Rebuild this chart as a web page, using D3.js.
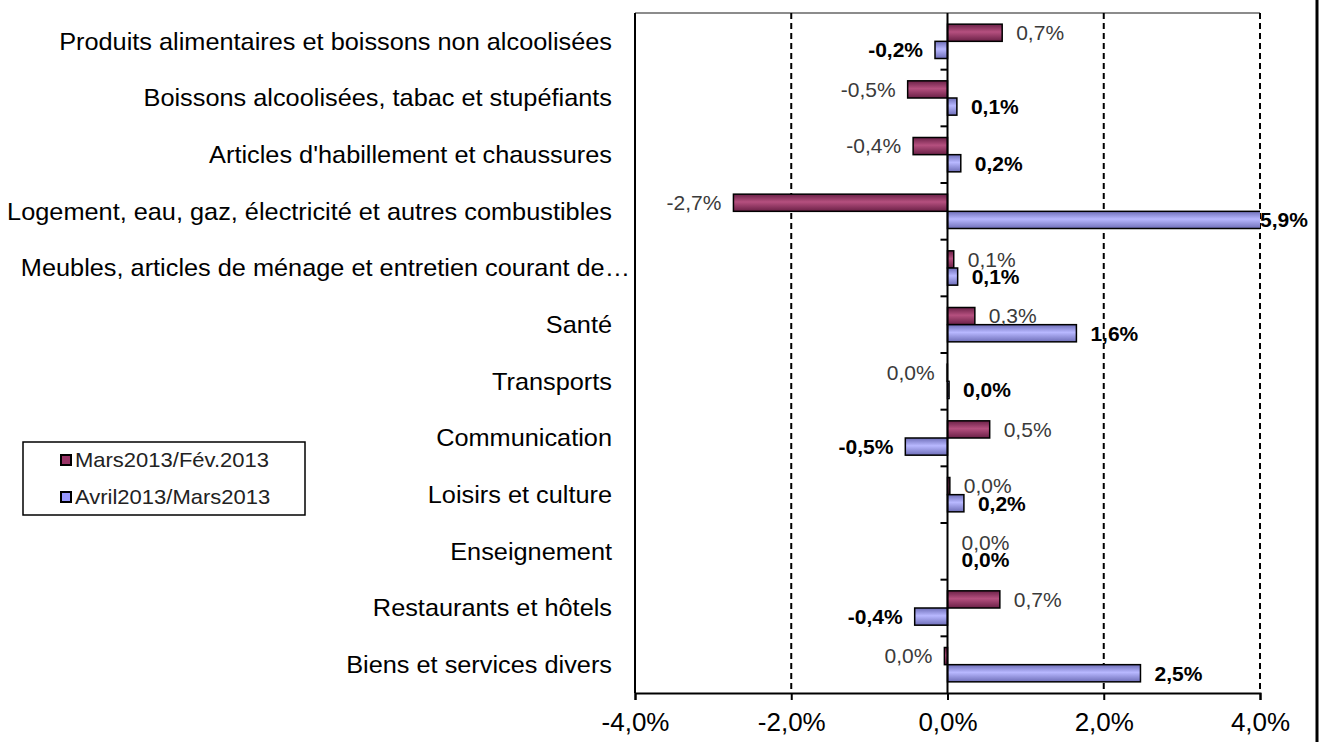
<!DOCTYPE html>
<html>
<head>
<meta charset="utf-8">
<script src="https://cdn.jsdelivr.net/npm/d3@7"></script>
<style>
  body { margin: 0; background: #fff; }
  text { font-family: "Liberation Sans", Arial, sans-serif; }
</style>
</head>
<body>
<script>
var width = 1320;
var height = 742;

// data
var categories = [
    "Produits alimentaires et boissons non alcoolisées",
    "Boissons alcoolisées, tabac et stupéfiants",
    "Articles d'habillement et chaussures",
    "Logement, eau, gaz, électricité et autres combustibles",
    "Meubles, articles de ménage et entretien courant de…",
    "Santé",
    "Transports",
    "Communication",
    "Loisirs et culture",
    "Enseignement",
    "Restaurants et hôtels",
    "Biens et services divers"
];
var seriesNames = ["Mars2013/Fév.2013", "Avril2013/Mars2013"];
var marsFev = [0.7, -0.51, -0.44, -2.74, 0.08, 0.35, -0.01, 0.54, 0.03, 0.0, 0.67, -0.04];
var avrilMars = [-0.16, 0.12, 0.17, 5.9, 0.13, 1.65, 0.02, -0.54, 0.21, 0.0, -0.42, 2.47];
var tickValues = [-4, -2, 0, 2, 4];

var plot = {left: 635, right: 1260, top: 13, bottom: 693};

var svg = d3.select("body").append("svg")
    .attr("width", width)
    .attr("height", height);

// gradients for the bars (dark edges, light middle)
var defs = svg.append("defs");
function gradient(id, dark, light){
    var g = defs.append("linearGradient").attr("id", id)
        .attr("x1", 0).attr("y1", 0).attr("x2", 0).attr("y2", 1);
    g.append("stop").attr("offset", "0%").attr("stop-color", dark);
    g.append("stop").attr("offset", "45%").attr("stop-color", light);
    g.append("stop").attr("offset", "100%").attr("stop-color", dark);
}
gradient("gMaroon", "#6a2046", "#b5507f");
gradient("gBlue", "#6e6eb8", "#b8b8ff");
var fills = ["url(#gMaroon)", "url(#gBlue)"];
var legendFills = ["#993366", "#9999ff"];

defs.append("clipPath").attr("id", "plotClip")
    .append("rect")
    .attr("x", plot.left).attr("y", plot.top - 2)
    .attr("width", plot.right - plot.left)
    .attr("height", plot.bottom - plot.top + 4);

// scales
var x = d3.scaleLinear().domain([-4, 4]).range([plot.left, plot.right]);
var y0 = d3.scaleBand().domain(categories).range([plot.top, plot.bottom]).padding(0);
var y1 = d3.scaleBand().domain(seriesNames).range([0, y0.bandwidth()])
    .paddingInner(0).paddingOuter(0.65);

// french number format, plain hyphen for minus
var fmt = function(v){
    var s = d3.format(".1f")(v).replace("\u2212", "-");
    if (s === "-0.0") s = "0.0";
    return s.replace(".", ",") + "%";
};

// plot frame
svg.append("line")
    .attr("x1", plot.left).attr("x2", plot.right)
    .attr("y1", plot.top).attr("y2", plot.top)
    .attr("stroke", "#8c8c8c").attr("stroke-width", 2);
svg.append("line")
    .attr("x1", plot.left).attr("x2", plot.left)
    .attr("y1", plot.top).attr("y2", plot.bottom)
    .attr("stroke", "#000").attr("stroke-width", 2);

// dashed gridlines
svg.append("g").selectAll("line")
    .data(tickValues.filter(function(d){ return d !== 0 && d !== -4; }))
    .enter().append("line")
    .attr("x1", function(d){ return x(d); })
    .attr("x2", function(d){ return x(d); })
    .attr("y1", plot.top).attr("y2", plot.bottom)
    .attr("stroke", "#000").attr("stroke-width", 2)
    .attr("stroke-dasharray", "6,4");

// bottom axis
var xAxis = d3.axisBottom(x).tickValues(tickValues).tickSize(7).tickPadding(13)
    .tickFormat(function(d){ return fmt(d); });
var gx = svg.append("g")
    .attr("transform", "translate(0," + plot.bottom + ")")
    .call(xAxis);
gx.select(".domain").attr("stroke", "#000").attr("stroke-width", 2);
gx.selectAll(".tick line").attr("stroke", "#000").attr("stroke-width", 2);
gx.selectAll(".tick text")
    .attr("font-size", 26).attr("fill", "#000")
    .attr("font-family", "Liberation Sans, Arial, sans-serif");

// bars
var groups = svg.append("g").attr("clip-path", "url(#plotClip)")
    .selectAll("g")
    .data(categories)
    .enter().append("g")
    .attr("transform", function(d){ return "translate(0," + y0(d) + ")"; });

groups.selectAll("rect")
    .data(function(d, i){ return [marsFev[i], avrilMars[i]]; })
    .enter().append("rect")
    .attr("x", function(v){ return x(Math.min(0, v)); })
    .attr("y", function(v, j){ return y1(seriesNames[j]); })
    .attr("width", function(v){ return Math.abs(x(v) - x(0)); })
    .attr("height", y1.bandwidth())
    .attr("fill", function(v, j){ return fills[j]; })
    .attr("stroke", function(v){ return Math.abs(v) < 0.015 ? "#666" : "#000"; })
    .attr("stroke-width", 1.5);

// zero axis with category ticks
svg.append("line")
    .attr("x1", x(0)).attr("x2", x(0))
    .attr("y1", plot.top).attr("y2", plot.bottom)
    .attr("stroke", "#000").attr("stroke-width", 2);
svg.append("g").selectAll("line")
    .data(categories.slice(1))
    .enter().append("line")
    .attr("x1", x(0) - 7).attr("x2", x(0))
    .attr("y1", function(d){ return y0(d); })
    .attr("y2", function(d){ return y0(d); })
    .attr("stroke", "#000").attr("stroke-width", 2);

// data labels
var labels = svg.append("g");
[marsFev, avrilMars].forEach(function(vals, j){
    labels.selectAll(".lab" + j)
        .data(vals)
        .enter().append("text")
        .attr("class", "lab" + j)
        .attr("x", function(v){
            var end = x(Math.max(-4, Math.min(4, v)));
            return v < 0 ? end - 12 : end + (v > 4 ? 0 : 14);
        })
        .attr("y", function(v, i){ return y0(categories[i]) + y1(seriesNames[j]) + y1.bandwidth() / 2; })
        .attr("dy", "0.35em")
        .attr("text-anchor", function(v){ return v < 0 ? "end" : "start"; })
        .attr("font-size", 21)
        .attr("font-weight", j === 1 ? "bold" : "normal")
        .attr("fill", j === 1 ? "#000" : "#3a3a3a")
        .text(function(v){ return fmt(v); });
});

// category labels (slightly wide glyphs, like the original)
svg.append("g").selectAll("text")
    .data(categories)
    .enter().append("text")
    .attr("transform", function(d){
        var ax = d.slice(-1) === "…" ? 630 : 612;
        return "translate(" + ax + "," + (y0(d) + y0.bandwidth() / 2) + ") scale(1.055,1)";
    })
    .attr("dy", "0.35em")
    .attr("text-anchor", "end")
    .attr("font-size", 24)
    .attr("fill", "#000")
    .text(function(d){ return d; });

// legend
var legend = svg.append("g").attr("transform", "translate(23,442)");
legend.append("rect")
    .attr("width", 282).attr("height", 73)
    .attr("fill", "#fff").attr("stroke", "#000").attr("stroke-width", 1.5);
var items = legend.selectAll(".item")
    .data(seriesNames)
    .enter().append("g")
    .attr("class", "item")
    .attr("transform", function(d, i){ return "translate(38," + (18 + i * 37) + ")"; });
items.append("rect")
    .attr("x", 0).attr("y", -5).attr("width", 10).attr("height", 10)
    .attr("fill", function(d, i){ return legendFills[i]; })
    .attr("stroke", "#000").attr("stroke-width", 2);
items.append("text")
    .attr("transform", "translate(14,0) scale(1.1,1)")
    .attr("dy", "0.35em")
    .attr("font-size", 20).attr("fill", "#222")
    .text(function(d){ return d; });

// right frame edge
svg.append("line")
    .attr("x1", 1317).attr("x2", 1317)
    .attr("y1", 0).attr("y2", height)
    .attr("stroke", "#000").attr("stroke-width", 3);
</script>
</body>
</html>
